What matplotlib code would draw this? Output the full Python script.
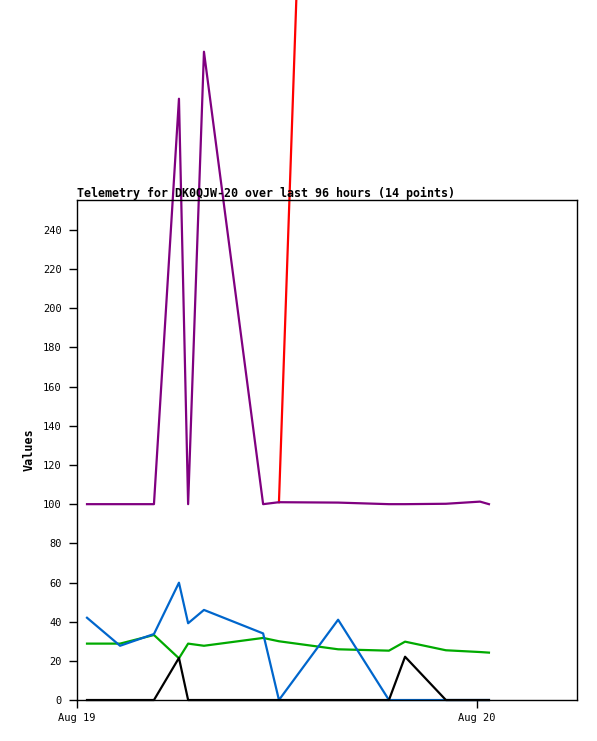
import pandas as pd
import numpy as np
import matplotlib
matplotlib.use("Agg")
import matplotlib.pyplot as plt
import matplotlib.dates as mdates

# Data
times = [
    "2024-08-19 00:36", "2024-08-19 02:35", "2024-08-19 04:37", "2024-08-19 06:07",
    "2024-08-19 06:40", "2024-08-19 07:37", "2024-08-19 11:10", "2024-08-19 12:07",
    "2024-08-19 15:40", "2024-08-19 18:43", "2024-08-19 19:41", "2024-08-19 22:08",
    "2024-08-20 00:11", "2024-08-20 00:43",
]
purple_vals = [100, 100, 100, 307, 100, 331, 100, 101, 100.8, 100, 100, 100.2, 101.3, 100]
red_vals = [np.nan] * 7 + [101, 975, 1000, 1000, 1000, 1000, 1000]
green_vals = [28.8, 28.8, 33.2, 21.3, 28.8, 27.7, 31.7, 30.0, 25.9, 25.2, 29.8, 25.4, 24.5, 24.2]
blue_vals = [42.0, 27.7, 33.7, 59.9, 39.2, 46.0, 34.0, 0, 41.0, 0, 0, 0, 0, 0]
black_vals = [0, 0, 0, 21.5, 0, 0, 0, 0, 0, 0, 22.1, 0, 0, 0]

x = pd.to_datetime(times)

plt.rcParams["font.family"] = "DejaVu Sans Mono"

fig = plt.figure(figsize=(5.97, 7.41), dpi=100)
ax = fig.add_axes([0.129, 0.0553, 0.8375, 0.6748])

lw = 1.6
ax.plot(x, red_vals, color="#ff0000", lw=lw, clip_on=False)
ax.plot(x, purple_vals, color="#800080", lw=lw, clip_on=False)
ax.plot(x, green_vals, color="#00aa00", lw=lw, clip_on=False)
ax.plot(x, blue_vals, color="#0066cc", lw=lw, clip_on=False)
ax.plot(x, black_vals, color="#000000", lw=lw, clip_on=False)

ax.set_xlim(pd.Timestamp("2024-08-19 00:00"), pd.Timestamp("2024-08-20 06:00"))
ax.set_ylim(0, 255.3)
ax.set_yticks(range(0, 241, 20))
ax.set_xticks([pd.Timestamp("2024-08-19"), pd.Timestamp("2024-08-20")])
ax.xaxis.set_major_formatter(mdates.DateFormatter("%b %d"))
ax.tick_params(labelsize=7.5, length=5.5, width=1, direction="out")
ax.tick_params(axis="y", pad=5.5)

ax.set_ylabel("Values", fontsize=8.5, fontweight="bold", labelpad=5)
ax.set_title("Telemetry for DK0QJW-20 over last 96 hours (14 points)",
             loc="left", fontsize=8.4, fontweight="bold", pad=2)

for s in ax.spines.values():
    s.set_linewidth(1)

plt.savefig("out.png", dpi=100)
